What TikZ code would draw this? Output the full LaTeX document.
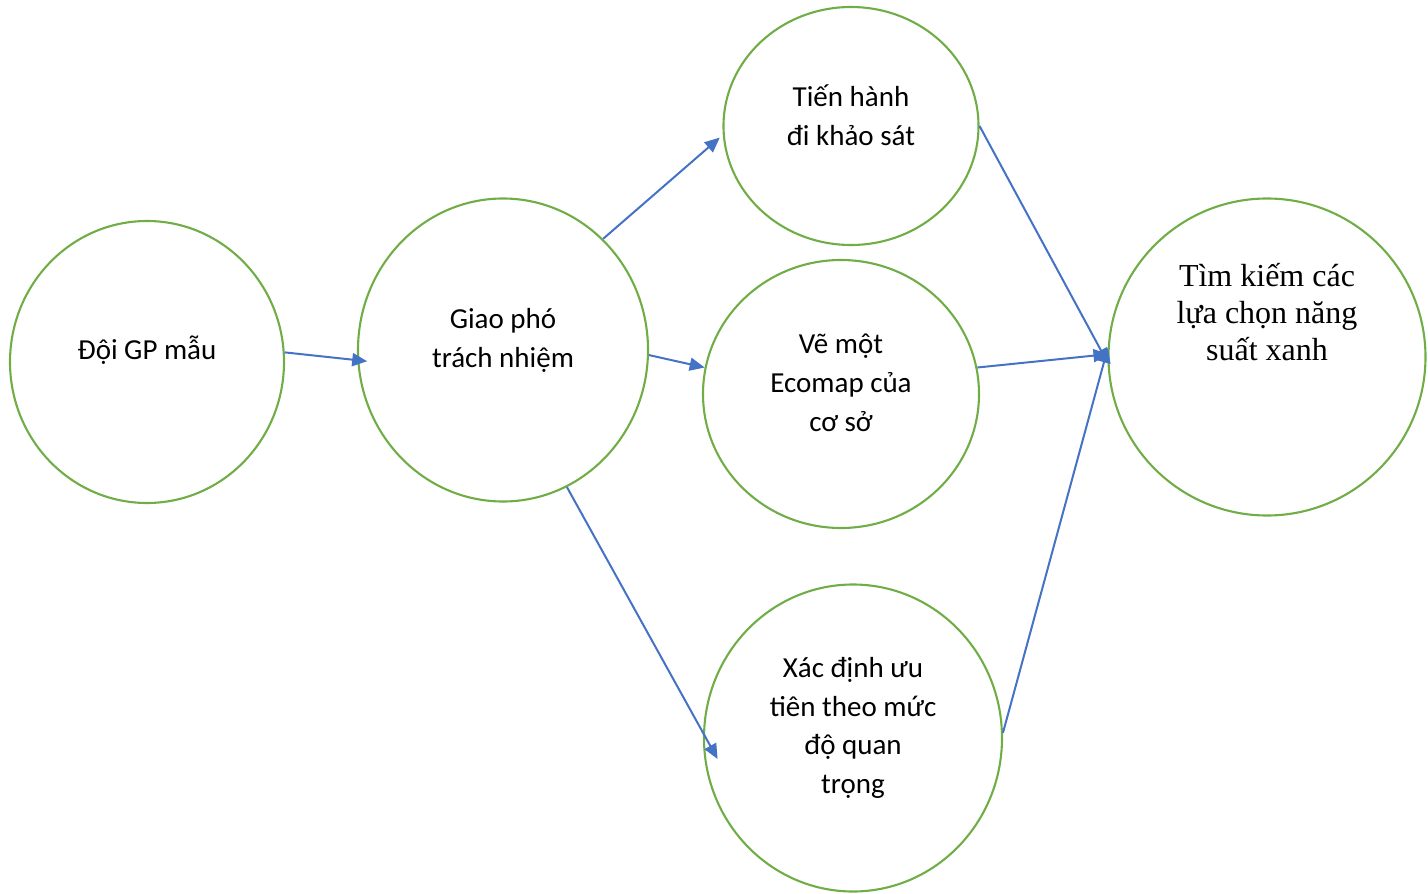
\documentclass[tikz,border=0pt]{standalone}
\usepackage{fontspec}
\setmainfont{Carlito}
\newfontfamily\serifvn{Liberation Serif}
\usetikzlibrary{shapes.geometric,arrows.meta}
\definecolor{gpgreen}{HTML}{70AD47}
\definecolor{gpblue}{HTML}{4472C4}
\begin{document}
\begin{tikzpicture}[x=1pt,y=-1pt,
  bubble/.style={draw=gpgreen,line width=2.1pt,ellipse,inner sep=0pt},
  lbl/.style={align=center,font=\fontsize{29}{38.8}\selectfont},
  slbl/.style={align=center,font=\serifvn\fontsize{32}{37}\selectfont},
  link/.style={draw=gpblue,line width=2pt,-{Triangle[length=15pt,width=13pt]}}]
\useasboundingbox (0,0) rectangle (1428,894);
\node[bubble,minimum width=274pt,minimum height=282pt] (doi) at (147,362) {};
\node[bubble,minimum width=290pt,minimum height=303pt] (giao) at (503,350) {};
\node[bubble,minimum width=255pt,minimum height=238pt] (tien) at (851,126) {};
\node[bubble,minimum width=276pt,minimum height=268pt] (ve) at (841,394) {};
\node[bubble,minimum width=298pt,minimum height=307pt] (xac) at (853,738) {};
\node[bubble,minimum width=317pt,minimum height=317pt] (tim) at (1267,357) {};
\node[lbl] (tdoi) at (147,350) {Đội GP mẫu};
\node[lbl] (tgiao) at (503,340) {Giao phó\\trách nhiệm};
\node[lbl] (ttien) at (851,115) {Tiến hành\\đi khảo sát};
\node[lbl] (tve) at (841,383) {Vẽ một\\Ecomap của\\cơ sở};
\node[lbl] (txac) at (853,728) {Xác định ưu\\tiên theo mức\\độ quan\\trọng};
\node[slbl] (ttim) at (1267,312) {Tìm kiếm các\\lựa chọn năng\\suất xanh};
\draw[link,shorten >=-10pt] (doi.4.6) -- (giao.184.7);
\draw[link,shorten >=4pt] (giao.48) -- (tien.184.4);
\draw[link] (giao.-2.7) -- (ve.169);
\draw[link,shorten >=-30pt] (giao.-65) -- (xac.178);
\draw[link,shorten >=-1pt] (tien.0) -- (tim.182);
\draw[link,shorten >=-1pt] (ve.11) -- (tim.179);
\draw[link,shorten >=-1pt] (xac.2.4) -- (tim.177.5);
\end{tikzpicture}
\end{document}
